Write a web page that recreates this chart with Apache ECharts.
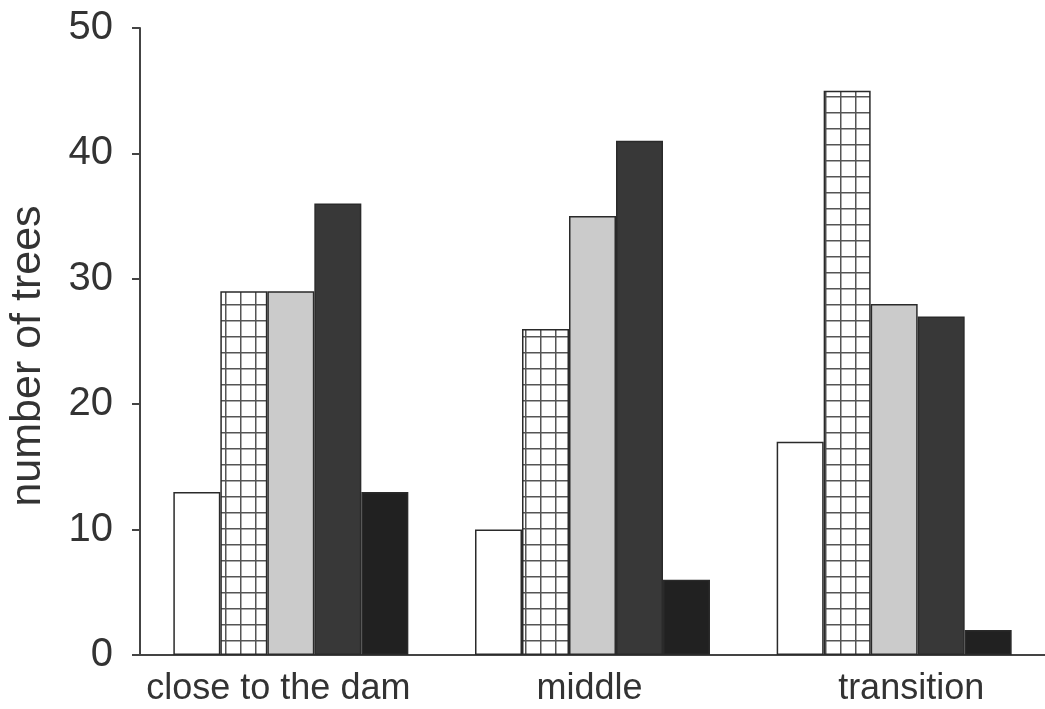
<!DOCTYPE html>
<html>
<head>
<meta charset="utf-8">
<script src="https://cdn.jsdelivr.net/npm/echarts@6/dist/echarts.min.js"></script>
<style>html,body{margin:0;padding:0;background:#fff}#c{width:1045px;height:709px}</style>
</head>
<body>
<div id="c"></div>
<script>
const categories = ['close to the dam', 'middle', 'transition'];
const seriesWhite = [13, 10, 17];
const seriesGrid = [29, 26, 45];
const seriesLight = [29, 35, 28];
const seriesDark = [36, 41, 27];
const seriesBlack = [13, 6, 2];
const yTicks = [0, 10, 20, 30, 40, 50];
const yTitle = 'number of trees';

function gridPattern() {
  const c = document.createElement('canvas');
  c.width = 15; c.height = 16;
  const g = c.getContext('2d');
  g.fillStyle = '#ffffff';
  g.fillRect(0, 0, 15, 16);
  g.fillStyle = '#555555';
  g.fillRect(0, 0, 15, 1.5);
  g.fillRect(0, 0, 1.5, 16);
  return c;
}

const chart = echarts.init(document.getElementById('c'), null, {renderer: 'canvas'});
const font = 'Liberation Sans, Arial, sans-serif';
const border = {borderColor: '#2a2a2a', borderWidth: 1.5};
function bar(data, color) {
  return {type: 'bar', data: data, barWidth: 47, barGap: '0%',
    itemStyle: Object.assign({color: color}, border), animation: false};
}
const labelStyle = {fontSize: 36, color: '#333', fontFamily: font};
chart.setOption({
  animation: false,
  grid: {left: 140, top: 28, bottom: 54, right: 0},
  xAxis: {
    type: 'category', data: categories,
    axisLine: {lineStyle: {color: '#444', width: 2}},
    axisTick: {show: false},
    axisLabel: {
      interval: 0, margin: 16,
      formatter: function (v, i) { return '{s' + i + '|' + v + '}'; },
      rich: {
        s0: Object.assign({padding: [0, 25, 0, 0]}, labelStyle),
        s1: Object.assign({padding: [0, 6, 0, 0]}, labelStyle),
        s2: Object.assign({padding: [0, 0, 0, 34]}, labelStyle)
      }
    }
  },
  yAxis: {
    type: 'value', min: yTicks[0], max: yTicks[yTicks.length - 1], interval: 10,
    axisLine: {show: true, lineStyle: {color: '#444', width: 2}},
    axisTick: {show: true, inside: false, length: 8, lineStyle: {color: '#444', width: 2}},
    axisLabel: {fontSize: 40, color: '#333', fontFamily: font, margin: 27},
    splitLine: {show: false}
  },
  graphic: [{
    type: 'text', x: 28, y: 356, rotation: Math.PI / 2,
    style: {text: yTitle, fontSize: 43, fill: '#333', fontFamily: font,
      align: 'center', verticalAlign: 'middle'}
  }],
  series: [
    bar(seriesWhite, '#ffffff'),
    bar(seriesGrid, {image: gridPattern(), repeat: 'repeat'}),
    bar(seriesLight, '#cbcbcb'),
    bar(seriesDark, '#383838'),
    bar(seriesBlack, '#212121')
  ]
});
</script>
</body>
</html>
